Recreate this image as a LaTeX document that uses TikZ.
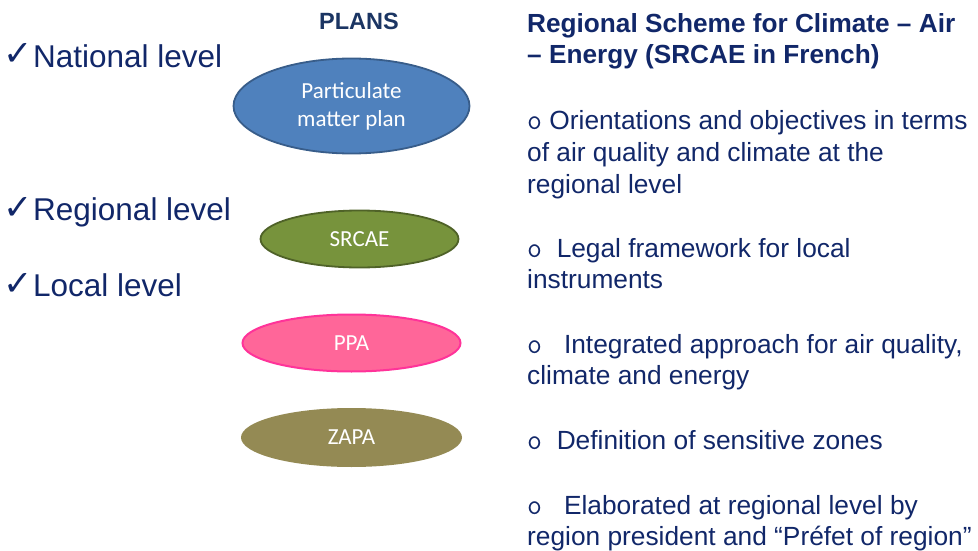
\documentclass[tikz,border=0pt]{standalone}
\usepackage{fontspec}
\setmainfont{Liberation Sans}
\newfontfamily\calib{Carlito}
\newfontfamily\chkfont{DejaVu Sans}
\usetikzlibrary{shapes.geometric}
\definecolor{navy}{RGB}{17,39,105}
\definecolor{plansc}{HTML}{1B3563}
\definecolor{pmfill}{HTML}{4F81BD}
\definecolor{pmline}{HTML}{385D8A}
\definecolor{srfill}{HTML}{77933C}
\definecolor{srline}{HTML}{4F6228}
\definecolor{ppfill}{HTML}{FF6699}
\definecolor{ppline}{HTML}{FF3399}
\definecolor{zafill}{HTML}{948A54}
\tikzset{
  lvl/.style={anchor=base west, inner sep=0pt, text=navy, font=\fontsize{31.5}{36}\selectfont},
  chk/.style={anchor=base east, inner sep=0pt, text=navy, font=\chkfont\bfseries\fontsize{35}{38}\selectfont},
  body/.style={anchor=base west, inner sep=0pt, text=navy, font=\fontsize{26.3}{32}\selectfont},
  ttl/.style={anchor=base west, inner sep=0pt, text=navy, font=\fontsize{26.2}{30}\selectfont\bfseries},
  plan/.style={ellipse, inner sep=0pt, text=white, align=center, font=\calib\fontsize{23}{28}\selectfont},
}
\newcommand{\bul}{{\ttfamily\fontsize{29}{32}\selectfont o}}
\begin{document}
\begin{tikzpicture}[x=1pt,y=-1pt]
\useasboundingbox (0,0) rectangle (978,551);
% levels
\node[chk] (c1) at (33,66) {✓};
\node[lvl] (nat) at (33,67) {National level};
\node[chk] (c2) at (33,219) {✓};
\node[lvl] (reg) at (33,220) {Regional level};
\node[chk] (c3) at (33,295) {✓};
\node[lvl] (loc) at (33,296) {Local level};
% plans heading
\node[anchor=base, inner sep=0pt, text=plansc, font=\fontsize{23.5}{26}\selectfont\bfseries] (plans) at (359,30) {PLANS};
% ellipses
\node[plan, fill=pmfill, draw=pmline, line width=1.8pt, minimum width=236pt, minimum height=95pt] (pm) at (351.5,106) {Particulate\\matter plan};
\node[plan, fill=srfill, draw=srline, line width=1.8pt, minimum width=198pt, minimum height=57pt] (sr) at (359.5,239) {SRCAE};
\node[plan, fill=ppfill, draw=ppline, line width=2pt, minimum width=218pt, minimum height=57pt] (pp) at (351.5,343) {PPA};
\node[plan, fill=zafill, minimum width=221pt, minimum height=59pt] (za) at (351.5,437.5) {ZAPA};
% right column
\node[ttl] (t1) at (527,33) {Regional Scheme for Climate – Air};
\node[ttl] (t2) at (527,64) {– Energy (SRCAE in French)};
\node[body] (a1) at (527,129) {\bul\ Orientations and objectives in terms};
\node[body] (a2) at (527,161) {of air quality and climate at the};
\node[body] (a3) at (527,193) {regional level};
\node[body] (b1) at (527,257) {\bul\ \ Legal framework for local};
\node[body] (b2) at (527,288) {instruments};
\node[body] (cc1) at (527,353) {\bul\ \ \ Integrated approach for air quality,};
\node[body] (cc2) at (527,384) {climate and energy};
\node[body] (d1) at (527,449) {\bul\ \ Definition of sensitive zones};
\node[body] (e1) at (527,514) {\bul\ \ \ Elaborated at regional level by};
\node[body] (e2) at (527,545) {region president and “Préfet of region”};
\end{tikzpicture}
\end{document}
